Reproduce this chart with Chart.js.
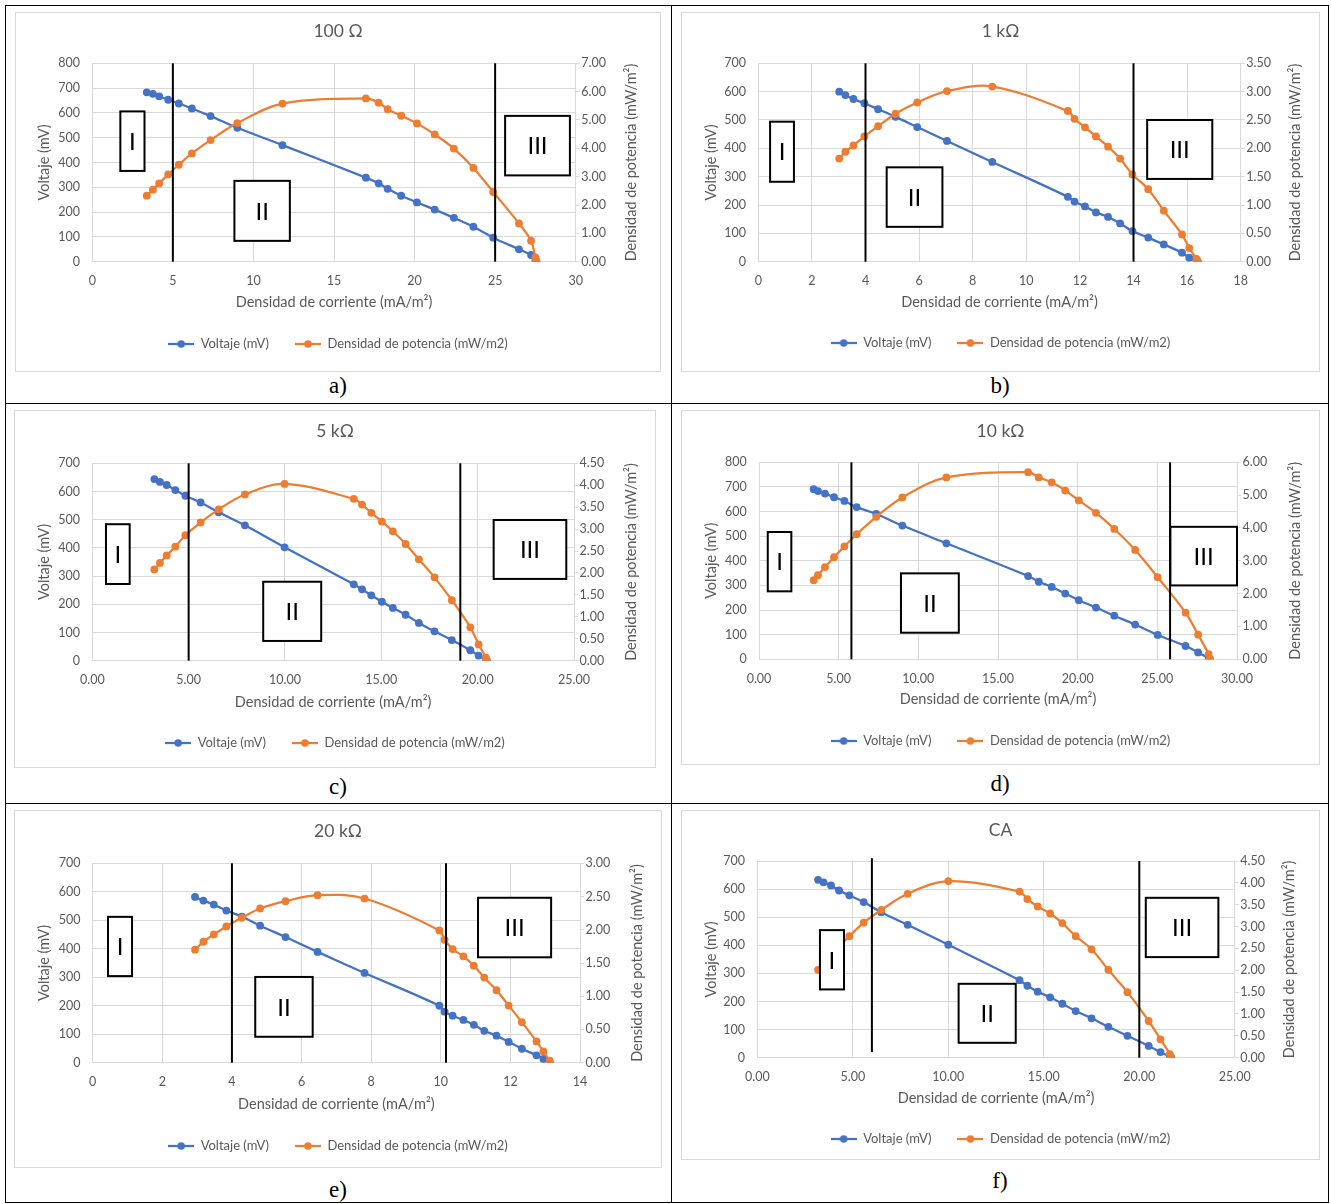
<!DOCTYPE html>
<html>
<head>
<meta charset="utf-8">
<script src="https://cdn.jsdelivr.net/npm/chart.js@4/dist/chart.umd.min.js"></script>
<style>
  html, body { margin: 0; padding: 0; background: #fff; }
  #page { position: relative; width: 1331px; height: 1204px; overflow: hidden; background: #fff; }
  .rule { position: absolute; background: #000; }
  .frame { position: absolute; border: 1px solid #d9d9d9; box-sizing: border-box; }
  canvas { position: absolute; }
  .cap { position: absolute; font-family: 'Liberation Serif', 'Times New Roman', serif; font-size: 23px; color: #000;
         transform: translate(-50%, -50%); white-space: nowrap; }
</style>
</head>
<body>
<div id="page"></div>
<script>
// ---- measured series: current density (mA/m2), voltage (mV), power density (mW/m2) ----
const currentA = [3.38, 3.76, 4.15, 4.71, 5.37, 6.18, 7.34, 9.00, 11.80, 16.98, 17.77, 18.33, 19.17, 20.15, 21.25, 22.44, 23.65, 24.88, 26.48, 27.23, 27.50, 27.56];
const voltageA = [683, 677, 667, 653, 638, 618, 587, 540, 470, 339, 316, 294, 266, 239, 210, 177, 141, 97, 50, 27, 5, 1];
const powerA   = [2.33, 2.54, 2.76, 3.08, 3.42, 3.82, 4.29, 4.89, 5.58, 5.76, 5.61, 5.38, 5.15, 4.88, 4.49, 3.99, 3.31, 2.46, 1.35, 0.74, 0.15, 0.02];

const currentB = [3.02, 3.25, 3.55, 3.96, 4.47, 5.12, 5.93, 7.04, 8.73, 11.55, 11.80, 12.19, 12.60, 13.05, 13.50, 13.96, 14.55, 15.13, 15.81, 16.08, 16.35, 16.40];
const voltageB = [600, 588, 574, 559, 538, 511, 475, 426, 352, 229, 212, 195, 174, 158, 135, 108, 85, 61, 32, 14, 3, 0];
const powerB   = [1.82, 1.94, 2.05, 2.21, 2.39, 2.61, 2.81, 3.01, 3.09, 2.66, 2.52, 2.37, 2.21, 2.03, 1.82, 1.54, 1.28, 0.90, 0.48, 0.24, 0.05, 0.00];

const currentC = [3.22, 3.51, 3.86, 4.31, 4.83, 5.62, 6.56, 7.92, 9.98, 13.57, 14.00, 14.48, 15.03, 15.60, 16.26, 16.95, 17.76, 18.66, 19.62, 20.05, 20.43, 20.48];
const voltageC = [644, 634, 623, 605, 585, 561, 526, 480, 402, 271, 253, 232, 209, 187, 163, 134, 104, 73, 37, 18, 3, 0];
const powerC   = [2.08, 2.23, 2.40, 2.60, 2.86, 3.15, 3.45, 3.79, 4.03, 3.69, 3.56, 3.37, 3.17, 2.95, 2.66, 2.31, 1.90, 1.38, 0.76, 0.37, 0.07, 0.00];

const currentD = [3.43, 3.70, 4.14, 4.71, 5.36, 6.13, 7.36, 9.00, 11.76, 16.89, 17.56, 18.37, 19.22, 20.07, 21.15, 22.30, 23.61, 25.02, 26.77, 27.56, 28.22, 28.30];
const voltageD = [691, 683, 673, 658, 643, 618, 590, 543, 471, 338, 315, 294, 267, 240, 210, 177, 141, 99, 54, 28, 5, 1];
const powerD   = [2.41, 2.56, 2.81, 3.11, 3.44, 3.81, 4.34, 4.93, 5.54, 5.70, 5.54, 5.39, 5.14, 4.84, 4.46, 3.97, 3.33, 2.50, 1.42, 0.75, 0.16, 0.01];

const currentE = [2.94, 3.18, 3.48, 3.84, 4.28, 4.81, 5.54, 6.46, 7.81, 9.96, 10.11, 10.34, 10.65, 10.95, 11.25, 11.60, 11.95, 12.33, 12.75, 12.95, 13.13];
const voltageE = [582, 569, 555, 534, 513, 481, 441, 389, 315, 200, 179, 165, 150, 133, 112, 95, 73, 49, 26, 13, 2];
const powerE   = [1.70, 1.82, 1.93, 2.05, 2.18, 2.32, 2.43, 2.52, 2.47, 1.99, 1.85, 1.71, 1.60, 1.46, 1.28, 1.09, 0.86, 0.61, 0.32, 0.17, 0.03];

const currentF = [3.18, 3.47, 3.86, 4.28, 4.82, 5.57, 6.49, 7.87, 10.00, 13.73, 14.14, 14.68, 15.33, 15.97, 16.67, 17.50, 18.38, 19.38, 20.49, 21.11, 21.60, 21.67];
const voltageF = [633, 624, 613, 595, 578, 554, 518, 473, 402, 276, 256, 235, 215, 192, 166, 140, 110, 78, 42, 20, 4, 1];
const powerF   = [2.01, 2.17, 2.37, 2.55, 2.78, 3.09, 3.38, 3.75, 4.04, 3.80, 3.63, 3.46, 3.30, 3.08, 2.78, 2.48, 2.01, 1.50, 0.84, 0.42, 0.08, 0.00];

// ---- panel titles, captions and axis texts ----
const panelTitles = ['100 Ω', '1 kΩ', '5 kΩ', '10 kΩ', '20 kΩ', 'CA'];
const panelCaptions = ['a)', 'b)', 'c)', 'd)', 'e)', 'f)'];
const voltLabel = 'Voltaje (mV)';
const powerLabel = 'Densidad de potencia (mW/m2)';
const xTitle = 'Densidad de corriente (mA/m²)';
const yTitle = 'Voltaje (mV)';
const y2Title = 'Densidad de potencia (mW/m²)';
const zoneNames = ['I', 'II', 'III'];

// ---- styling ----
const GRID = '#d9d9d9', TEXT = '#595959', BLUE = '#4472C4', ORANGE = '#ED7D31';
const FONT = "Lato, 'Liberation Sans', sans-serif";
Chart.defaults.font.family = FONT;
Chart.defaults.color = TEXT;

const TICK_FONT = 12.5, AX_FONT = 14.5, TITLE_FONT = 17.5, LEG_FONT = 13, LEG_PAD = 26;

// panel layout (page px for frames/captions, canvas px for the plot area), axis ranges,
// region boundaries (x) and region boxes (x range, left-axis y range)
const panels = [
  { box: [15, 12, 646, 360], area: [77.3, 51.3, 560.7, 249.7], titleY: 19, legendY: 332, xTitleY: 290, yTitleX: 29, y2TitleX: 616,
    cap: [338, 386], xMax: 30, xStep: 5, xDec: 0, yMax: 800, y2Max: 7, y2Step: 1,
    bounds: [{ x: 5 }, { x: 25 }],
    zones: [{ x: [1.74, 3.24], y: [366, 606] }, { x: [8.82, 12.26], y: [84, 326] }, { x: [25.62, 29.64], y: [348, 588] }],
    series: [currentA, voltageA, powerA] },
  { box: [681, 12, 639, 360], area: [77.3, 51.3, 559.7, 249.7], titleY: 19, legendY: 331, xTitleY: 290, yTitleX: 30, y2TitleX: 614,
    cap: [1000, 386], xMax: 18, xStep: 2, xDec: 0, yMax: 700, y2Max: 3.5, y2Step: 0.5,
    bounds: [{ x: 4 }, { x: 14 }],
    zones: [{ x: [0.44, 1.33], y: [282, 494] }, { x: [4.79, 6.87], y: [123, 333] }, { x: [14.51, 16.94], y: [292, 500] }],
    series: [currentB, voltageB, powerB] },
  { box: [14, 410, 642, 358], area: [78.3, 53.3, 560, 250.7], titleY: 21, legendY: 333, xTitleY: 292, yTitleX: 30, y2TitleX: 617,
    cap: [338, 787], xMax: 25, xStep: 5, xDec: 2, yMax: 700, y2Max: 4.5, y2Step: 0.5,
    bounds: [{ x: 5 }, { x: 19.1 }],
    zones: [{ x: [0.71, 1.94], y: [272, 484] }, { x: [8.87, 11.88], y: [70, 280] }, { x: [20.83, 24.6], y: [290, 499] }],
    series: [currentC, voltageC, powerC] },
  { box: [681, 410, 639, 355], area: [78, 52.3, 556, 249.3], titleY: 21, legendY: 331, xTitleY: 289, yTitleX: 30, y2TitleX: 614,
    cap: [1000, 784], xMax: 30, xStep: 5, xDec: 2, yMax: 800, y2Max: 6, y2Step: 1,
    bounds: [{ x: 5.8 }, { x: 25.8 }],
    zones: [{ x: [0.55, 2.03], y: [276, 517] }, { x: [8.91, 12.54], y: [108, 349] }, { x: [25.82, 30], y: [300, 538] }],
    series: [currentD, voltageD, powerD] },
  { box: [14, 810, 648, 358], area: [78.7, 53.3, 566, 252.7], titleY: 21, legendY: 336, xTitleY: 294, yTitleX: 30, y2TitleX: 623,
    cap: [338, 1190], xMax: 14, xStep: 2, xDec: 0, yMax: 700, y2Max: 3, y2Step: 0.5,
    bounds: [{ x: 4 }, { x: 10.15 }],
    zones: [{ x: [0.44, 1.13], y: [304, 512] }, { x: [4.67, 6.32], y: [91, 301] }, { x: [11.07, 13.17], y: [370, 579] }],
    series: [currentE, voltageE, powerE] },
  { box: [681, 810, 639, 350], area: [76.3, 51, 553.8, 247.7], titleY: 20, legendY: 329, xTitleY: 288, yTitleX: 30, y2TitleX: 608,
    cap: [1000, 1181], xMax: 25, xStep: 5, xDec: 2, yMax: 700, y2Max: 4.5, y2Step: 0.5,
    bounds: [{ x: 6, from: 20, to: 710 }, { x: 20 }],
    zones: [{ x: [3.28, 4.54], y: [243, 454] }, { x: [10.54, 13.53], y: [53, 263] }, { x: [20.34, 24.14], y: [358, 569] }],
    series: [currentF, voltageF, powerF] }
];

// table rules of the figure
const rules = [
  [5, 5, 1324, 1], [5, 403, 1324, 1], [5, 803, 1324, 1], [5, 1202, 1324, 1],
  [5, 5, 1, 1198], [671, 5, 1, 1198], [1328, 5, 1, 1198]
];

const page = document.getElementById('page');
rules.forEach(([l, t, w, h]) => {
  const d = document.createElement('div');
  d.className = 'rule';
  Object.assign(d.style, { left: l + 'px', top: t + 'px', width: w + 'px', height: h + 'px' });
  page.appendChild(d);
});

function legendMarker(color) {
  const c = document.createElement('canvas');
  c.width = 26; c.height = 10;
  const g = c.getContext('2d');
  g.strokeStyle = color; g.lineWidth = 2.25;
  g.beginPath(); g.moveTo(0, 5); g.lineTo(26, 5); g.stroke();
  g.fillStyle = color;
  g.beginPath(); g.arc(13, 5, 3.8, 0, Math.PI * 2); g.fill();
  return c;
}

function toPoints(xs, ys) {
  return xs.map((x, i) => ({ x, y: ys[i] }));
}

function lineStyle(color) {
  return {
    borderColor: color, backgroundColor: color, pointBackgroundColor: color,
    borderWidth: 2.25, pointRadius: 3.9, pointHoverRadius: 3.9, pointBorderWidth: 0,
    tension: 0.35, fill: false
  };
}

function makePanel(p, idx) {
  const [bx, by, bw, bh] = p.box;
  const [L, T, R, B] = p.area;

  const frame = document.createElement('div');
  frame.className = 'frame';
  Object.assign(frame.style, { left: bx + 'px', top: by + 'px', width: bw + 'px', height: bh + 'px' });
  page.appendChild(frame);

  const cv = document.createElement('canvas');
  cv.width = bw; cv.height = bh;
  Object.assign(cv.style, { left: bx + 'px', top: by + 'px', width: bw + 'px', height: bh + 'px' });
  page.appendChild(cv);

  const cap = document.createElement('div');
  cap.className = 'cap';
  cap.textContent = panelCaptions[idx];
  Object.assign(cap.style, { left: p.cap[0] + 'px', top: p.cap[1] + 'px' });
  page.appendChild(cap);

  const tLh = TITLE_FONT * 1.2, aLh = AX_FONT * 1.2;
  const padBottom = bh - p.legendY - 10 - LEG_FONT / 2;
  const legendTop = bh - padBottom - (LEG_FONT + LEG_PAD + 10);
  const xAxisH = legendTop - B;

  // region boundaries, labelled region boxes and the right-hand axis title
  const regions = {
    id: 'regions' + idx,
    afterDatasetsDraw(chart) {
      const { ctx, scales: { x, y } } = chart;
      ctx.save();
      ctx.strokeStyle = '#000';
      ctx.lineWidth = 2;
      p.bounds.forEach(b => {
        const px = x.getPixelForValue(b.x);
        ctx.beginPath();
        ctx.moveTo(px, y.getPixelForValue(b.from !== undefined ? b.from : y.min));
        ctx.lineTo(px, y.getPixelForValue(b.to !== undefined ? b.to : y.max));
        ctx.stroke();
      });
      p.zones.forEach((z, k) => {
        const x0 = x.getPixelForValue(z.x[0]), x1 = x.getPixelForValue(z.x[1]);
        const y0 = y.getPixelForValue(z.y[1]), y1 = y.getPixelForValue(z.y[0]);
        ctx.fillStyle = '#fff';
        ctx.fillRect(x0, y0, x1 - x0, y1 - y0);
        ctx.lineWidth = 2;
        ctx.strokeStyle = '#000';
        ctx.strokeRect(x0, y0, x1 - x0, y1 - y0);
        ctx.fillStyle = '#000';
        ctx.font = '24px ' + FONT;
        ctx.textAlign = 'center';
        ctx.textBaseline = 'middle';
        ctx.fillText(zoneNames[k], (x0 + x1) / 2, (y0 + y1) / 2 + 1);
      });
      ctx.restore();
    },
    afterDraw(chart) {
      const { ctx, chartArea } = chart;
      ctx.save();
      ctx.translate(p.y2TitleX, (chartArea.top + chartArea.bottom) / 2);
      ctx.rotate(-Math.PI / 2);
      ctx.font = AX_FONT + 'px ' + FONT;
      ctx.fillStyle = TEXT;
      ctx.textAlign = 'center';
      ctx.textBaseline = 'middle';
      ctx.fillText(y2Title, 0, 0);
      ctx.restore();
    }
  };

  const [cur, volt, pow] = p.series;

  new Chart(cv, {
    type: 'line',
    data: {
      datasets: [
        Object.assign({ label: voltLabel, data: toPoints(cur, volt), yAxisID: 'y', order: 2 }, lineStyle(BLUE)),
        Object.assign({ label: powerLabel, data: toPoints(cur, pow), yAxisID: 'y2', order: 1 }, lineStyle(ORANGE))
      ]
    },
    options: {
      responsive: false,
      animation: false,
      events: [],
      layout: { padding: { left: 0, right: 0, top: 0, bottom: padBottom }, autoPadding: false },
      plugins: {
        title: {
          display: true, text: panelTitles[idx], color: TEXT,
          font: { size: TITLE_FONT, weight: 'normal' },
          padding: { top: p.titleY - tLh / 2, bottom: T - p.titleY - tLh / 2 }
        },
        legend: {
          position: 'bottom',
          labels: {
            usePointStyle: true, pointStyleWidth: 26, padding: LEG_PAD, color: TEXT,
            font: { size: LEG_FONT },
            generateLabels(chart) {
              return chart.data.datasets.map((ds, i) => ({
                text: ds.label, fillStyle: ds.borderColor, strokeStyle: ds.borderColor,
                lineWidth: 0, pointStyle: legendMarker(ds.borderColor), datasetIndex: i,
                hidden: false, fontColor: TEXT
              }));
            }
          }
        },
        tooltip: { enabled: false }
      },
      scales: {
        x: {
          type: 'linear', min: 0, max: p.xMax,
          afterFit(sc) { sc.height = xAxisH; },
          ticks: { stepSize: p.xStep, autoSkip: false, maxRotation: 0, padding: 12,
                   font: { size: TICK_FONT }, callback: v => Number(v).toFixed(p.xDec) },
          grid: { color: GRID, drawTicks: false },
          border: { color: GRID },
          title: { display: true, text: xTitle, color: TEXT, font: { size: AX_FONT },
                   padding: { top: 0, bottom: legendTop - p.xTitleY - aLh / 2 } }
        },
        y: {
          position: 'left', min: 0, max: p.yMax,
          afterFit(sc) { sc.width = L; },
          ticks: { stepSize: 100, padding: 12.3, font: { size: TICK_FONT } },
          grid: { color: GRID, drawTicks: false },
          border: { color: GRID },
          title: { display: true, text: yTitle, color: TEXT, font: { size: AX_FONT },
                   padding: { top: p.yTitleX - aLh / 2, bottom: 0 } }
        },
        y2: {
          position: 'right', min: 0, max: p.y2Max,
          afterFit(sc) { sc.width = bw - R; },
          ticks: { stepSize: p.y2Step, padding: 1.5, font: { size: TICK_FONT },
                   callback: v => Number(v).toFixed(2) },
          grid: { drawOnChartArea: false, color: GRID, tickLength: 4 },
          border: { color: GRID }
        }
      }
    },
    plugins: [regions]
  });
}

panels.forEach(makePanel);
</script>
</body>
</html>
